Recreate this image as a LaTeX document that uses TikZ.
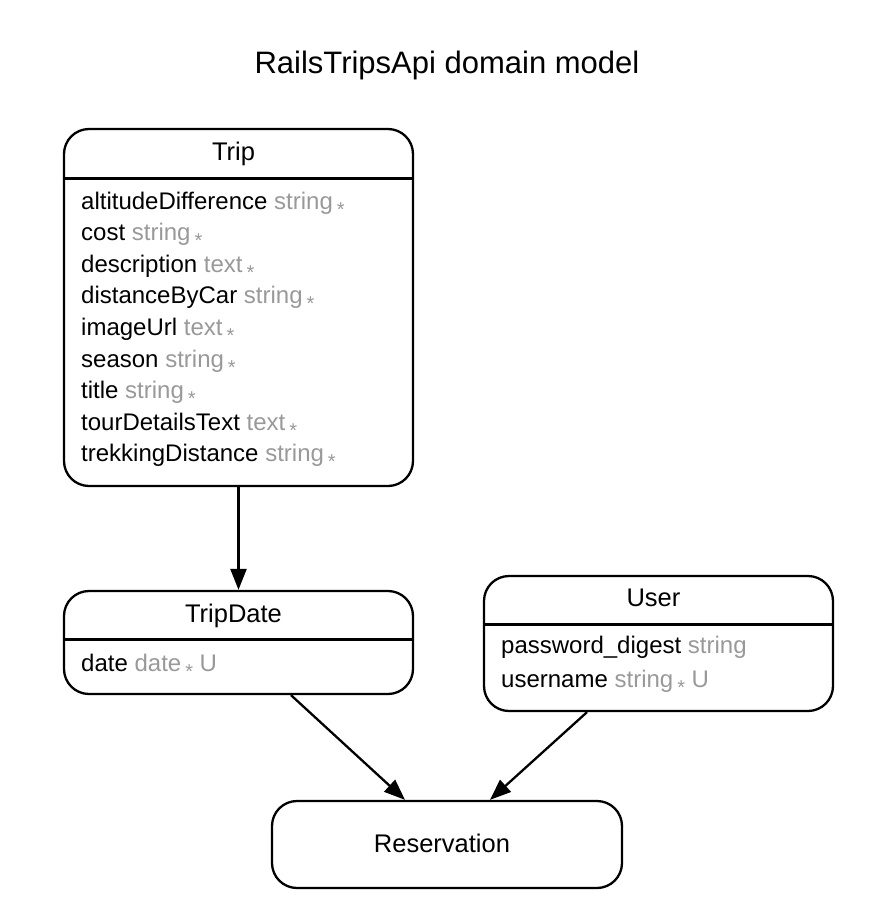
\documentclass[tikz,border=0pt]{standalone}
\usepackage{fontspec}
\setmainfont{Liberation Sans}
\usetikzlibrary{arrows.meta}

\definecolor{typegray}{HTML}{999999}
\newcommand{\ftype}[1]{\textcolor{typegray}{#1}}
\newcommand{\req}{\textcolor{typegray}{\raisebox{-7pt}{\fontsize{20}{20}\selectfont *}}}

\tikzset{
  entity/.style={draw, line width=2.3pt, rounded corners=25pt, inner sep=0pt},
  ename/.style={anchor=base, font=\fontsize{25.5}{28}\selectfont},
  attr/.style={anchor=base west, inner sep=0pt, font=\fontsize{24}{28}\selectfont},
  sep/.style={line width=3pt},
  rel/.style={line width=2.3pt, -{Triangle[length=21pt,width=16pt]}}
}

\begin{document}
\begin{tikzpicture}[x=1pt,y=-1pt]
\useasboundingbox (0,0) rectangle (894,924);

\node[anchor=base, font=\fontsize{31}{34}\selectfont] (title) at (447,73) {RailsTripsApi domain model};

% boxes
\node[entity, minimum width=349, minimum height=357] (trip) at (238.5,307.5) {};
\node[entity, minimum width=349, minimum height=103] (tripdate) at (238.5,642.5) {};
\node[entity, minimum width=349, minimum height=135] (user) at (658.5,643.5) {};
\node[entity, minimum width=350, minimum height=87] (resv) at (447,844.5) {};

\coordinate (tripsep) at (0,178);
\coordinate (datesep) at (0,639);
\coordinate (usersep) at (0,624);
\draw[sep] (trip.west |- tripsep) -- (trip.east |- tripsep);
\draw[sep] (tripdate.west |- datesep) -- (tripdate.east |- datesep);
\draw[sep] (user.west |- usersep) -- (user.east |- usersep);

% names
\node[ename] (tripname) at (233.5,160) {Trip};
\node[ename] (tripdatename) at (233.5,622) {TripDate};
\node[ename] (username) at (653.5,606) {User};
\node[ename] (resvname) at (442,852) {Reservation};

% attributes
\foreach \aname/\akind [count=\i] in {altitudeDifference/string, cost/string,
    description/text, distanceByCar/string, imageUrl/text, season/string,
    title/string, tourDetailsText/text, trekkingDistance/string}
  \node[attr] (trip-\i) at (81,177.4+31.6*\i) {\aname{} \ftype{\akind}\,\req};

\node[attr] (tripdate-1) at (81,671) {date \ftype{date}\,\req\ \ftype{U}};
\node[attr] (user-1) at (501,653) {password\_digest \ftype{string}};
\node[attr] (user-2) at (501,687) {username \ftype{string}\,\req\ \ftype{U}};

% relations
\draw[rel] (trip.south) -- (tripdate.north);
\draw[rel] ([xshift=52.5pt]tripdate.south) -- ([xshift=-42pt]resv.north);
\draw[rel] ([xshift=-71.5pt]user.south) -- ([xshift=43pt]resv.north);

\end{tikzpicture}
\end{document}
